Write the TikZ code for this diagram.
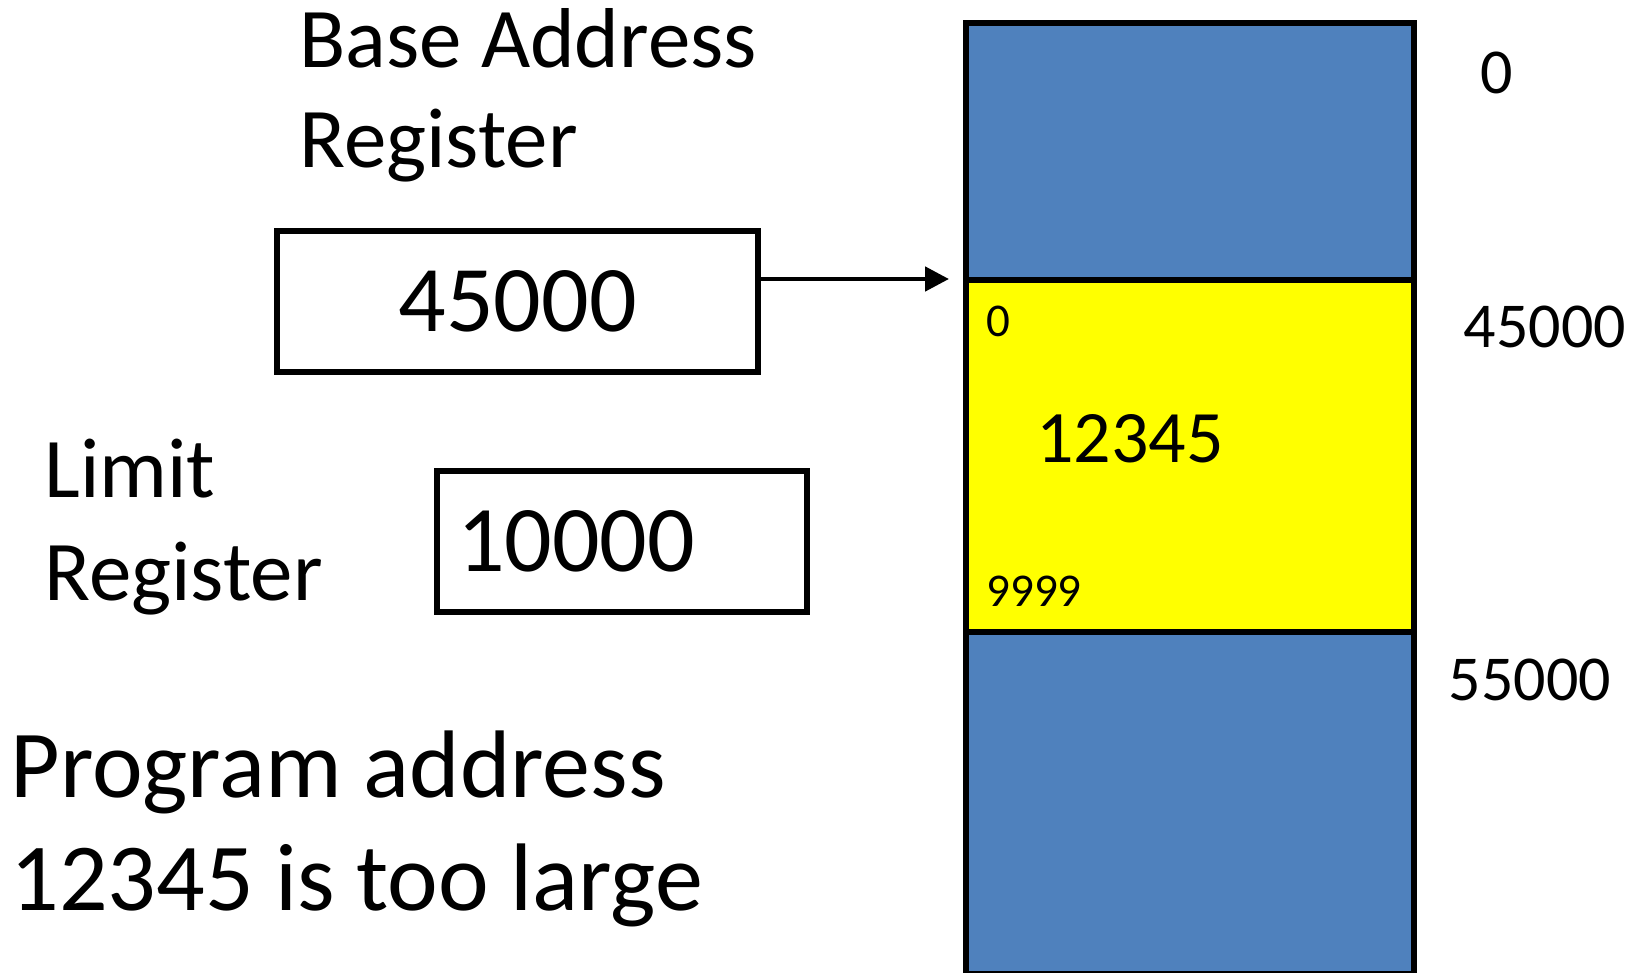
\documentclass[tikz,border=0pt]{standalone}
\usepackage{fontspec}
\setmainfont{Carlito}
\usetikzlibrary{arrows.meta}
\definecolor{memblue}{HTML}{4F81BD}
\definecolor{memyellow}{HTML}{FFFF00}
\begin{document}
\begin{tikzpicture}[x=0.5pt,y=-0.5pt,
  lbl/.style={inner sep=0pt, anchor=base west, align=left},
  rlbl/.style={inner sep=0pt, anchor=base},
  regbox/.style={draw, line width=3pt, inner sep=0pt, minimum height=70.5pt},
  memblk/.style={draw, line width=3pt, inner sep=0pt, minimum width=224pt},
  arr/.style={line width=2.4pt, -{Triangle[length=12pt,width=12pt]}}]
\useasboundingbox (0,0) rectangle (1645,973);
% memory column
\node[memblk, fill=memblue, minimum height=128.5pt] (top) at (1190,151.5) {};
\node[memblk, fill=memblue, minimum height=171pt] (bot) at (1190,803) {};
\node[memblk, fill=memyellow, minimum height=176pt] (prog) at (1190,456) {};
% texts inside program region
\node[lbl, font=\fontsize{23.5}{28}\selectfont] (p0) at (986,336) {0};
\node[lbl, font=\fontsize{37}{44}\selectfont] (pa) at (1036,462) {12345};
\node[lbl, font=\fontsize{23.5}{28}\selectfont] (p9) at (986,606) {9999};
% address labels
\node[rlbl, font=\fontsize{32}{38}\selectfont] (a0) at (1497,94) {0};
\node[rlbl, font=\fontsize{32}{38}\selectfont] (a45) at (1545,348) {45000};
\node[rlbl, font=\fontsize{32}{38}\selectfont] (a55) at (1530,700) {55000};
% registers
\node[lbl, font=\fontsize{42.5}{50}\selectfont] (basel) at (299,168) {Base Address\\Register};
\node[regbox, minimum width=240.5pt, font=\fontsize{47}{56}\selectfont] (b45) at (517.5,301.5) {45000};
\node[lbl, font=\fontsize{42.5}{51.5}\selectfont] (liml) at (44,600) {Limit\\Register};
\node[regbox, text width=165pt, inner xsep=10pt, align=left, font=\fontsize{47}{56}\selectfont] (b10) at (622,541.5) {10000};
\node[lbl, font=\fontsize{48}{56.5}\selectfont] (msg) at (10,910) {Program address\\12345 is too large};
% arrow
\coordinate (tip) at (949,279);
\draw[arr] (b45.east |- tip) -- (tip);
\end{tikzpicture}
\end{document}
